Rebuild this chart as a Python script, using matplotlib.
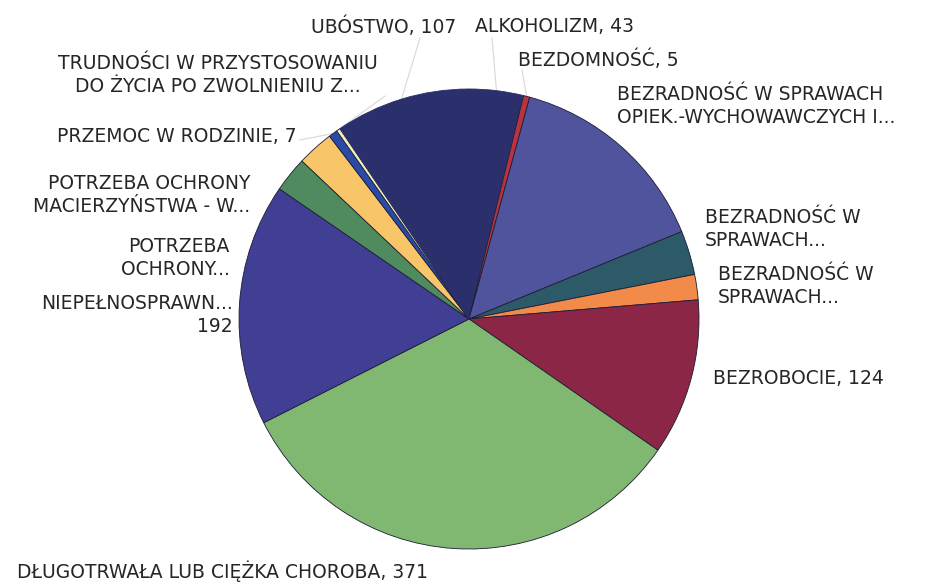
import numpy as np
import matplotlib
matplotlib.use('Agg')
import matplotlib.pyplot as plt

# slice data (alphabetical, clockwise from 12 o'clock as in the original Excel chart)
labels = [
    "ALKOHOLIZM, 43",
    "BEZDOMNOŚĆ, 5",
    "BEZRADNOŚĆ W SPRAWACH\nOPIEK.-WYCHOWAWCZYCH I...",
    "BEZRADNOŚĆ W\nSPRAWACH...",
    "BEZRADNOŚĆ W\nSPRAWACH...",
    "BEZROBOCIE, 124",
    "DŁUGOTRWAŁA LUB CIĘŻKA CHOROBA, 371",
    "NIEPEŁNOSPRAWN...\n192",
    "POTRZEBA\nOCHRONY...",
    "POTRZEBA OCHRONY\nMACIERZYŃSTWA - W...",
    "PRZEMOC W RODZINIE, 7",
    "TRUDNOŚCI W PRZYSTOSOWANIU\nDO ŻYCIA PO ZWOLNIENIU Z...",
    "UBÓSTWO, 107",
]
values = [43, 5, 164, 35, 20, 124, 371, 192, 28, 29, 7, 3, 107]
colors = ['#2b2f6b', '#b8333f', '#50549c', '#2c5a68', '#f28a4a', '#8b2647',
          '#80b872', '#413f93', '#4f8b5e', '#f8c568', '#2a4aa8', '#f2f0b8', '#2b2f6b']

# label anchors in pixels (x, y from top), horizontal alignment
label_pos = [(475, 27, 'left'), (518, 60, 'left'), (617, 106, 'left'),
             (705, 229, 'left'), (718, 286, 'left'), (713, 378, 'left'),
             (17, 571, 'left'), (233, 315, 'right'), (230, 258, 'right'),
             (250, 195, 'right'), (297, 137, 'right'), (218, 75, 'center'),
             (456, 27, 'right')]
# small slices with a faint leader line: index -> start of line (pixels)
leaders = {0: (492, 38), 1: (522, 70), 10: (300, 140), 11: (385, 96), 12: (420, 38)}

W, H = 933, 584
cx, cy, r = 469, 319, 230

fig = plt.figure(figsize=(W / 100, H / 100), dpi=100)
ax = fig.add_axes([0, 0, 1, 1])

wedges, _ = ax.pie(values, colors=colors, startangle=90, counterclock=False,
                   center=(cx, H - cy), radius=r,
                   wedgeprops=dict(edgecolor='#1c1c34', linewidth=0.6))
# first and last slice share a colour, hide the seam between them
wedges[0].set_edgecolor(colors[0])
wedges[-1].set_edgecolor(colors[-1])

ax.set_xlim(0, W)
ax.set_ylim(0, H)
ax.set_aspect('equal')
ax.axis('off')

for i, (lab, (x, y, ha)) in enumerate(zip(labels, label_pos)):
    mal = 'center' if ha == 'center' else ha
    ax.text(x, H - y, lab, ha=ha, va='center', multialignment=mal,
            fontsize=13.5, color='#262626', linespacing=1.25,
            family='DejaVu Sans')

for i, (sx, sy) in leaders.items():
    w = wedges[i]
    mid = np.deg2rad((w.theta1 + w.theta2) / 2)
    ex = cx + r * np.cos(mid)
    ey = (H - cy) + r * np.sin(mid)
    ax.plot([sx, ex], [H - sy, ey], color='#d8d8d8', lw=0.8, zorder=0)

fig.savefig('out.png', dpi=100, facecolor='white')
